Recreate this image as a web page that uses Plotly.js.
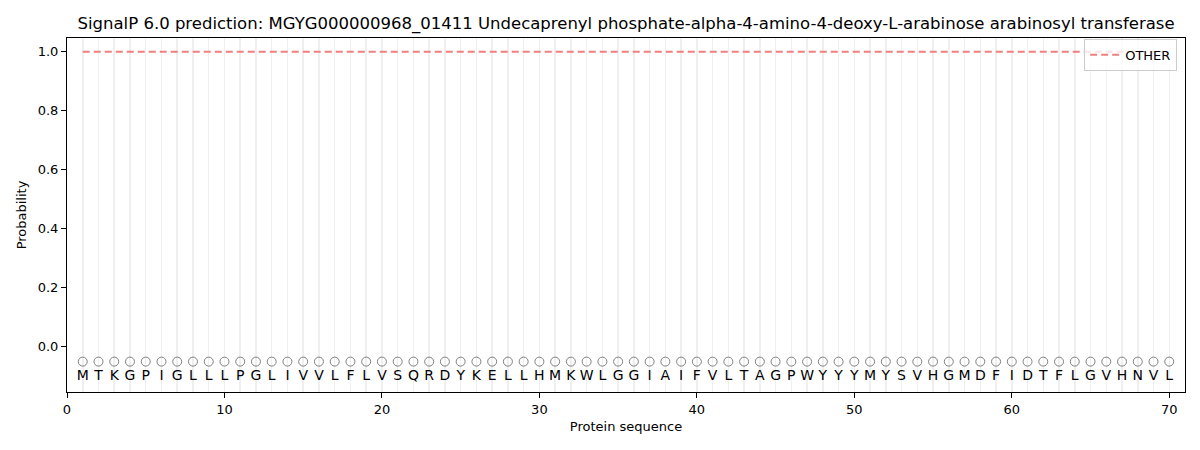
<!DOCTYPE html>
<html>
<head>
<meta charset="utf-8">
<script src="https://cdn.plot.ly/plotly-3.0.1.min.js"></script>
<style>body{margin:0;padding:0;background:#fff}#chart{width:1200px;height:450px}</style>
</head>
<body>
<div id="chart"></div>
<script>
const titleText = "SignalP 6.0 prediction: MGYG000000968_01411 Undecaprenyl phosphate-alpha-4-amino-4-deoxy-L-arabinose arabinosyl transferase";
const sequence = "MTKGPIGLLLPGLIVVLFLVSQRDYKELLHMKWLGGIAIFVLTAGPWYYYMYSVHGMDFIDTFLGVHNVL".split("");
const positions = sequence.map((_, i) => i + 1);
const otherProb = sequence.map(() => 1.0);
const markerLevel = sequence.map(() => -0.05);
const letterLevel = sequence.map(() => -0.1);

const font = "DejaVu Sans, sans-serif";
const traces = [
  {x: positions, y: otherProb, mode: "lines", name: "OTHER",
   line: {color: "#f08080", width: 2, dash: "7px,4px"}, showlegend: true},
  {x: positions, y: markerLevel, mode: "markers", showlegend: false,
   marker: {symbol: "circle-open", size: 9, color: "#808080", line: {width: 1}}, hoverinfo: "skip"},
  {x: positions, y: letterLevel, mode: "text", text: sequence, showlegend: false,
   textfont: {family: font, size: 14, color: "#000"}, textposition: "middle center", hoverinfo: "skip"}
];
const layout = {
  width: 1200, height: 450,
  margin: {l: 67, r: 15, t: 38, b: 58},
  paper_bgcolor: "#fff", plot_bgcolor: "#fff",
  title: {text: titleText, font: {family: font, size: 16.5, color: "#000"}, x: 0.5217, xanchor: "center", y: 0.948, yanchor: "middle"},
  xaxis: {range: [0, 71], tickvals: [0,10,20,30,40,50,60,70], showgrid: true, gridcolor: "#efefef", gridwidth: 1.5,
    minor: {dtick: 1, tick0: 0, showgrid: true, gridcolor: "#efefef", gridwidth: 1.5, ticks: ""},
    zeroline: false, showline: true, linecolor: "#000", linewidth: 1, mirror: true,
    ticks: "outside", ticklen: 5, tickcolor: "#000",
    tickfont: {family: font, size: 13, color: "#000"},
    title: {text: "Protein sequence", font: {family: font, size: 13, color: "#000"}, standoff: 6}},
  yaxis: {range: [-0.153, 1.047], tickvals: [0, 0.2, 0.4, 0.6, 0.8, 1.0], ticktext: ["0.0","0.2","0.4","0.6","0.8","1.0"],
    showgrid: false, zeroline: false, showline: true, linecolor: "#000", linewidth: 1, mirror: true,
    ticks: "outside", ticklen: 5, tickcolor: "#000",
    tickfont: {family: font, size: 13, color: "#000"},
    title: {text: "Probability", font: {family: font, size: 13, color: "#000"}, standoff: 8}},
  legend: {x: 0.993, y: 0.998, xanchor: "right", yanchor: "top", bgcolor: "rgba(255,255,255,0.8)",
    bordercolor: "#cccccc", borderwidth: 1, font: {family: font, size: 13, color: "#000"}},
  showlegend: true
};
Plotly.newPlot("chart", traces, layout, {displayModeBar: false, staticPlot: true});
</script>
</body>
</html>
